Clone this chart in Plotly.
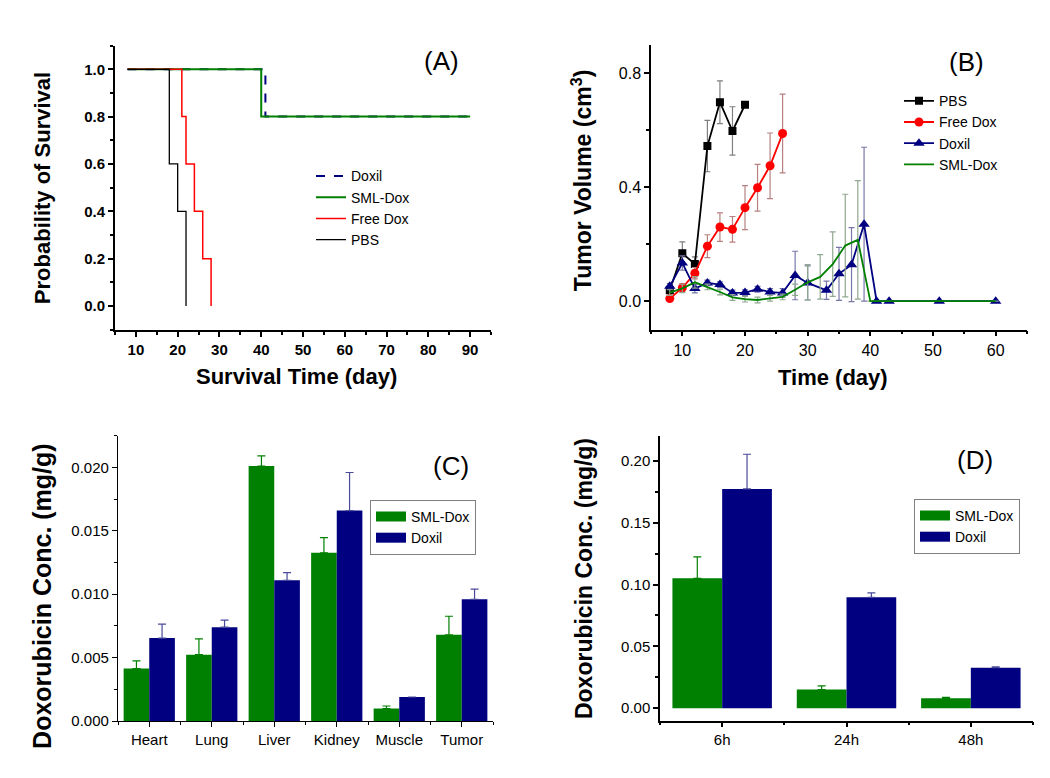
import plotly.graph_objects as go

# ---------------- Panel A: survival ----------------
km_doxil_days = [8, 41, 90]
km_doxil_surv = [1.0, 0.8, 0.8]
km_sml_days = [8, 40, 90]
km_sml_surv = [1.0, 0.8, 0.8]
km_free_days = [8, 21, 22, 24, 26, 28]
km_free_surv = [1.0, 0.8, 0.6, 0.4, 0.2, 0.0]
km_pbs_days = [8, 18, 20, 22]
km_pbs_surv = [1.0, 0.6, 0.4, 0.0]

# ---------------- Panel B: tumor volume ----------------
pbs_days = [8, 10, 12, 14, 16, 18, 20]
pbs_vol = [0.038, 0.168, 0.13, 0.544, 0.698, 0.597, 0.689]
pbs_err = [0.01, 0.04, 0.025, 0.09, 0.075, 0.085, 0.0]

free_days = [8, 10, 12, 14, 16, 18, 20, 22, 24, 26]
free_vol = [0.009, 0.047, 0.098, 0.193, 0.26, 0.252, 0.328, 0.398, 0.475, 0.588]
free_err = [0.005, 0.015, 0.02, 0.04, 0.05, 0.045, 0.077, 0.082, 0.115, 0.138]

doxil_days = [8, 10, 12, 14, 16, 18, 20, 22, 24, 26, 28, 30, 33, 35, 37, 39, 41, 43, 51, 60]
doxil_vol = [0.052, 0.134, 0.044, 0.064, 0.058, 0.029, 0.03, 0.042, 0.032, 0.029,
             0.09, 0.064, 0.038, 0.096, 0.128, 0.27, 0.0, 0.0, 0.0, 0.0]
doxil_err = [0.01, 0.025, 0.015, 0.01, 0.01, 0.01, 0.01, 0.01, 0.012, 0.015,
             0.085, 0.06, 0.032, 0.093, 0.13, 0.27, 0.0, 0.0, 0.0, 0.0]

sml_days = [8, 10, 12, 14, 16, 18, 20, 22, 24, 26, 28, 30, 32, 34, 36, 38, 40, 41, 43, 51, 60]
sml_vol = [0.03, 0.045, 0.066, 0.05, 0.032, 0.013, 0.007, 0.004, 0.01, 0.015, 0.04,
           0.066, 0.085, 0.13, 0.195, 0.215, 0.0, 0.0, 0.0, 0.0, 0.0]
sml_err = [0.01, 0.015, 0.02, 0.01, 0.01, 0.01, 0.01, 0.01, 0.01, 0.01, 0.02,
           0.062, 0.078, 0.113, 0.18, 0.208, 0.0, 0.0, 0.0, 0.0, 0.0]

# ---------------- Panel C: organ distribution ----------------
organs = ["Heart", "Lung", "Liver", "Kidney", "Muscle", "Tumor"]
c_sml = [0.00414, 0.00523, 0.0201, 0.01326, 0.00099, 0.0068]
c_sml_err = [0.0006, 0.00125, 0.0008, 0.0012, 0.0002, 0.00146]
c_doxil = [0.00654, 0.0074, 0.0111, 0.01659, 0.0019, 0.0096]
c_doxil_err = [0.0011, 0.00055, 0.0006, 0.003, 0.0, 0.0008]

# ---------------- Panel D: tumor over time ----------------
times = ["6h", "24h", "48h"]
d_sml = [0.105, 0.0151, 0.008]
d_sml_err = [0.0173, 0.003, 0.0008]
d_doxil = [0.1773, 0.0896, 0.0327]
d_doxil_err = [0.028, 0.0037, 0.0008]

GREEN = "#008000"
NAVY = "#000080"
RED = "#ff0000"
BLACK = "#000000"
FONT = "Arial, Liberation Sans, sans-serif"
W, H = 1050, 778

fig = go.Figure()

# ---- A ----
for name, xs, ys, col, dash, lw in [
    ("Doxil", km_doxil_days, km_doxil_surv, NAVY, "dash", 2),
    ("SML-Dox", km_sml_days, km_sml_surv, GREEN, "solid", 2),
    ("Free Dox", km_free_days, km_free_surv, RED, "solid", 1.5),
    ("PBS", km_pbs_days, km_pbs_surv, BLACK, "solid", 1.3),
]:
    fig.add_trace(go.Scatter(x=xs, y=ys, mode="lines", name=name, line_shape="hv",
                             line=dict(color=col, width=lw, dash=dash),
                             xaxis="x", yaxis="y", legend="legend"))

# ---- B ----
def err(arr, col):
    return dict(type="data", array=arr, visible=True, color=col, thickness=1.2, width=3)

fig.add_trace(go.Scatter(x=pbs_days, y=pbs_vol, name="PBS", mode="lines+markers",
                         line=dict(color=BLACK, width=1.8),
                         marker=dict(symbol="square", size=8, color=BLACK),
                         error_y=err(pbs_err, "#808080"),
                         xaxis="x2", yaxis="y2", legend="legend2"))
fig.add_trace(go.Scatter(x=free_days, y=free_vol, name="Free Dox", mode="lines+markers",
                         line=dict(color=RED, width=1.8),
                         marker=dict(symbol="circle", size=9, color=RED),
                         error_y=err(free_err, "#b88080"),
                         xaxis="x2", yaxis="y2", legend="legend2"))
fig.add_trace(go.Scatter(x=doxil_days, y=doxil_vol, name="Doxil", mode="lines+markers",
                         line=dict(color=NAVY, width=1.8),
                         marker=dict(symbol="triangle-up", size=10, color=NAVY),
                         error_y=err(doxil_err, "#7878a8"),
                         xaxis="x2", yaxis="y2", legend="legend2"))
fig.add_trace(go.Scatter(x=sml_days, y=sml_vol, name="SML-Dox", mode="lines",
                         line=dict(color=GREEN, width=1.8),
                         error_y=err(sml_err, "#90a890"),
                         xaxis="x2", yaxis="y2", legend="legend2"))

# ---- C ----
cx = list(range(len(organs)))
fig.add_trace(go.Bar(x=cx, y=c_sml, name="SML-Dox", width=0.41, offset=-0.41,
                     marker=dict(color=GREEN, line=dict(width=0)), showlegend=False,
                     error_y=dict(type="data", symmetric=False, array=c_sml_err,
                                  arrayminus=[0] * len(c_sml), color=GREEN, thickness=1.2, width=4),
                     xaxis="x3", yaxis="y3"))
fig.add_trace(go.Bar(x=cx, y=c_doxil, name="Doxil", width=0.41, offset=0,
                     marker=dict(color=NAVY, line=dict(width=0)), showlegend=False,
                     error_y=dict(type="data", symmetric=False, array=c_doxil_err,
                                  arrayminus=[0] * len(c_doxil), color="#4a4a9a", thickness=1.2, width=4),
                     xaxis="x3", yaxis="y3"))
for name, col in [("SML-Dox", GREEN), ("Doxil", NAVY)]:
    fig.add_trace(go.Scatter(x=[None], y=[None], mode="lines", name=name,
                             line=dict(color=col, width=10), xaxis="x3", yaxis="y3",
                             legend="legend3"))

# ---- D ----
dx = list(range(len(times)))
fig.add_trace(go.Bar(x=dx, y=d_sml, name="SML-Dox", width=0.4, offset=-0.4,
                     marker=dict(color=GREEN, line=dict(width=0)), showlegend=False,
                     error_y=dict(type="data", symmetric=False, array=d_sml_err,
                                  arrayminus=[0] * len(d_sml), color=GREEN, thickness=1.2, width=4),
                     xaxis="x4", yaxis="y4"))
fig.add_trace(go.Bar(x=dx, y=d_doxil, name="Doxil", width=0.4, offset=0,
                     marker=dict(color=NAVY, line=dict(width=0)), showlegend=False,
                     error_y=dict(type="data", symmetric=False, array=d_doxil_err,
                                  arrayminus=[0] * len(d_doxil), color="#4a4a9a", thickness=1.2, width=4),
                     xaxis="x4", yaxis="y4"))
for name, col in [("SML-Dox", GREEN), ("Doxil", NAVY)]:
    fig.add_trace(go.Scatter(x=[None], y=[None], mode="lines", name=name,
                             line=dict(color=col, width=10), xaxis="x4", yaxis="y4",
                             legend="legend4"))


def px_x(x0, x1):
    return [x0 / W, x1 / W]


def px_y(top, bottom):
    return [1 - bottom / H, 1 - top / H]


def axis(domain, rng, anchor, lw=1.5, fsize=15, bold=False, **kw):
    d = dict(domain=domain, range=rng, anchor=anchor, showline=True, linecolor="black",
             linewidth=lw, ticks="outside", ticklen=5, tickwidth=lw, tickcolor="black",
             showgrid=False, zeroline=False, mirror=False,
             tickfont=dict(family=FONT, size=fsize, color="black",
                           weight="bold" if bold else "normal"),
             minor=dict(ticks="outside", ticklen=3, tickwidth=lw, tickcolor="black", showgrid=False))
    d.update(kw)
    return d


ax_a = axis(px_x(107, 483), [5, 95], "y", lw=2, fsize=15, bold=True, dtick=10, tick0=0)
ax_a["minor"]["dtick"] = 5
ay_a = axis(px_y(38, 325), [-0.1, 1.1], "x", lw=2, fsize=15, bold=True,
            tickvals=[0, 0.2, 0.4, 0.6, 0.8, 1.0], tickformat=".1f")
ay_a["minor"]["dtick"] = 0.1
ay_a["minor"]["tick0"] = 0

ax_b = axis(px_x(643, 1019), [5, 65], "y2", lw=1.5, fsize=16, dtick=10, tick0=0)
ax_b["minor"]["dtick"] = 5
ay_b = axis(px_y(37, 325), [-0.1, 0.9], "x2", lw=1.5, fsize=16, dtick=0.4, tick0=0, tickformat=".1f")
ay_b["minor"]["dtick"] = 0.2
ay_b["minor"]["tick0"] = 0

ax_c = axis(px_x(110, 485), [-0.5, len(organs) - 0.5], "y3", lw=1.3, fsize=15,
            tickvals=cx, ticktext=organs)
ax_c["minor"]["tickvals"] = [i + 0.5 for i in range(-1, len(organs))]
ay_c = axis(px_y(432, 720.5), [0, 0.0225], "x3", lw=1.3, fsize=15, dtick=0.005, tick0=0,
            tickformat=".3f")
ay_c["minor"]["dtick"] = 0.0025
ay_c["minor"]["tick0"] = 0

ax_d = axis(px_x(652, 1025), [-0.5, len(times) - 0.5], "y4", lw=1.5, fsize=15,
            tickvals=dx, ticktext=times)
ax_d["minor"]["tickvals"] = [i + 0.5 for i in range(-1, len(times))]
ay_d = axis(px_y(432.5, 720), [-0.01, 0.22], "x4", lw=1.5, fsize=15, dtick=0.05, tick0=0,
            tickformat=".2f")
ay_d["minor"]["dtick"] = 0.025
ay_d["minor"]["tick0"] = 0


def ann(text, xpx, ypx, size, bold=True, angle=0):
    return dict(text=text, x=xpx / W, y=1 - ypx / H, xref="paper", yref="paper",
                showarrow=False, textangle=angle, xanchor="center", yanchor="middle",
                font=dict(family=FONT, size=size, color="black",
                          weight="bold" if bold else "normal"))


annotations = [
    ann("Probability of Survival", 34, 182, 22, angle=-90),
    ann("Survival Time (day)", 288, 372, 22),
    ann("Tumor Volume (cm<sup>3</sup>)", 574, 174, 23, angle=-90),
    ann("Time (day)", 825, 373, 22),
    ann("Doxorubicin Conc. (mg/g)", 34, 594, 25, angle=-90),
    ann("Doxorubicin Conc. (mg/g)", 576, 577, 23, angle=-90),
    ann("(A)", 433, 54, 26, bold=False),
    ann("(B)", 958, 55, 26, bold=False),
    ann("(C)", 443, 463, 26, bold=False),
    ann("(D)", 967, 457, 26, bold=False),
]

leg_font = dict(family=FONT, size=14, color="black")

fig.update_layout(
    width=W, height=H,
    margin=dict(l=0, r=0, t=0, b=0),
    paper_bgcolor="white", plot_bgcolor="white",
    barmode="overlay",
    xaxis=ax_a, yaxis=ay_a,
    xaxis2=ax_b, yaxis2=ay_b,
    xaxis3=ax_c, yaxis3=ay_c,
    xaxis4=ax_d, yaxis4=ay_d,
    annotations=annotations,
    legend=dict(x=303 / W, y=1 - 154 / H, xanchor="left", yanchor="top", font=leg_font,
                bgcolor="rgba(0,0,0,0)", borderwidth=0, tracegroupgap=0),
    legend2=dict(x=891 / W, y=1 - 78 / H, xanchor="left", yanchor="top", font=leg_font,
                 bgcolor="rgba(0,0,0,0)", borderwidth=0),
    legend3=dict(x=362 / W, y=1 - 497 / H, xanchor="left", yanchor="top", font=leg_font,
                 bgcolor="white", bordercolor="#808080", borderwidth=1),
    legend4=dict(x=906 / W, y=1 - 496 / H, xanchor="left", yanchor="top", font=leg_font,
                 bgcolor="white", bordercolor="#808080", borderwidth=1),
)

fig.write_html("out.html")
